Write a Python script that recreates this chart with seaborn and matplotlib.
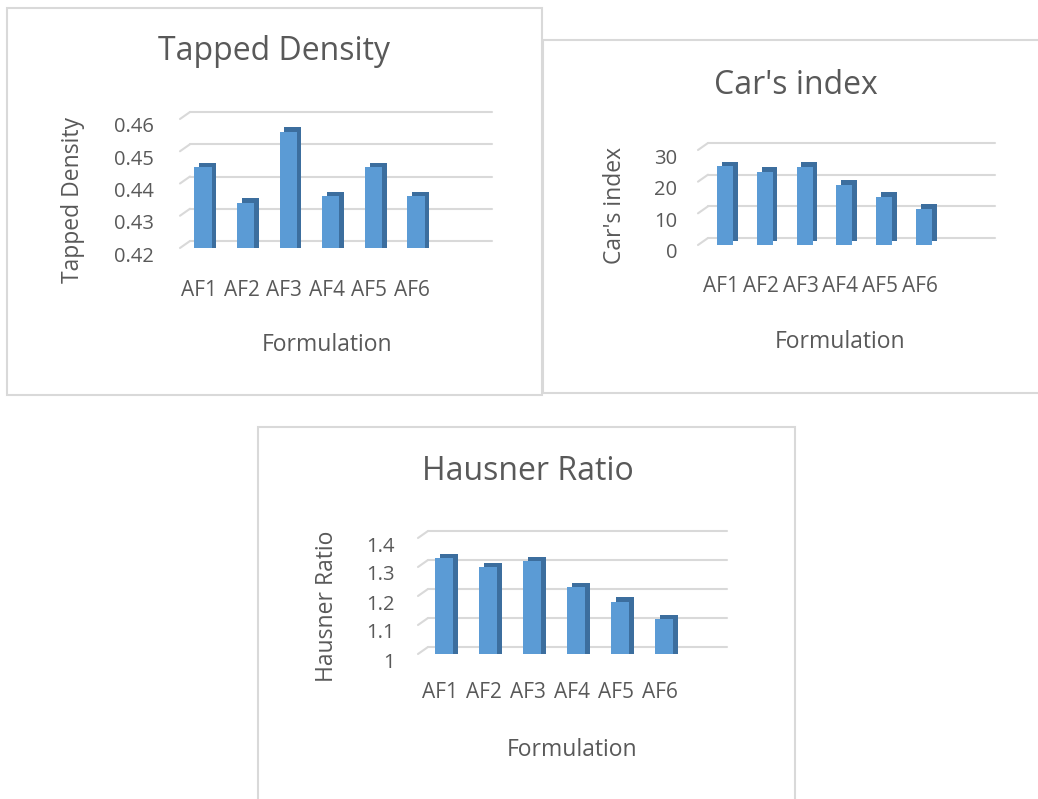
import matplotlib
matplotlib.use("Agg")
import matplotlib.pyplot as plt
import matplotlib.patheffects as pe
import seaborn as sns
from matplotlib.patches import Rectangle, ConnectionPatch
from matplotlib.transforms import ScaledTranslation

# Data
formulations = ["AF1", "AF2", "AF3", "AF4", "AF5", "AF6"]
tapped_density = [0.445, 0.434, 0.456, 0.436, 0.445, 0.436]
carrs_index = [24.8, 23.2, 24.7, 19.0, 15.3, 11.4]
hausner_ratio = [1.33, 1.30, 1.32, 1.23, 1.18, 1.12]

tapped_ticks = [0.42, 0.43, 0.44, 0.45, 0.46]
tapped_labels = ["0.42", "0.43", "0.44", "0.45", "0.46"]
carr_ticks = [0, 10, 20, 30]
carr_labels = ["0", "10", "20", "30"]
hausner_ticks = [1.0, 1.1, 1.2, 1.3, 1.4]
hausner_labels = ["1", "1.1", "1.2", "1.3", "1.4"]

W, H = 1038, 799
BAR = "#5B9BD5"
SIDE = "#3C6E9E"
TEXT = "#595959"
GRID = "#D9D9D9"

sns.set_theme(style="white")
plt.rcParams['font.family'] = ['Open Sans', 'DejaVu Sans']

fig = plt.figure(figsize=(W / 100, H / 100), dpi=100)


def fx(x):
    return x / W


def fy(y):
    return 1 - y / H


# layout in pixels: box, front plane of plot, first bar centre, bar step
panels = [
    dict(values=tapped_density, ticks=tapped_ticks, labels=tapped_labels,
         title="Tapped Density", ylabel="Tapped Density",
         box=(7, 8, 542, 395), front=(180, 119, 482, 248), first=203, step=42.6,
         title_xy=(274, 52), ylabel_xy=(73, 200), xlabel_xy=(327, 345),
         ypad=19, xpad=23),
    dict(values=carrs_index, ticks=carr_ticks, labels=carr_labels,
         title="Car's index", ylabel="Car's index",
         box=(543, 40, 1045, 393), front=(698, 150, 985, 245), first=725, step=39.8,
         title_xy=(796, 86), ylabel_xy=(615, 205), xlabel_xy=(840, 342),
         ypad=15, xpad=22),
    dict(values=hausner_ratio, ticks=hausner_ticks, labels=hausner_labels,
         title="Hausner Ratio", ylabel="Hausner Ratio",
         box=(258, 427, 795, 810), front=(418, 538, 717, 654), first=444, step=44,
         title_xy=(528, 472), ylabel_xy=(327, 606), xlabel_xy=(572, 750),
         ypad=16.5, xpad=20.5),
]

for p in panels:
    bx0, by0, bx1, by1 = p["box"]
    fig.patches.append(Rectangle((fx(bx0), fy(by1)), fx(bx1 - bx0), (by1 - by0) / H,
                                 transform=fig.transFigure, fill=False,
                                 edgecolor=GRID, linewidth=1.5))

    x0, y0, x1, y1 = p["front"]
    ax = fig.add_axes([fx(x0), fy(y1), fx(x1 - x0), (y1 - y0) / H])
    sns.barplot(x=formulations, y=p["values"], color=BAR, saturation=1,
                width=0.4, ax=ax, zorder=3, linewidth=0, edgecolor=BAR)
    for bar in ax.patches:
        bar.set_path_effects([
            pe.SimplePatchShadow(offset=(3.4, 3.2), shadow_rgbFace=SIDE, alpha=1),
            pe.Normal()])

    ax.set_xlim((x0 - p["first"]) / p["step"], (x1 - p["first"]) / p["step"])
    ax.set_ylim(p["ticks"][0], p["ticks"][-1])
    ax.set_yticks(p["ticks"])
    ax.set_yticklabels(p["labels"])
    ax.tick_params(axis="y", length=0, pad=p["ypad"], labelsize=14.5, labelcolor=TEXT)
    ax.tick_params(axis="x", length=0, pad=p["xpad"], labelsize=15, labelcolor=TEXT)
    for lab in ax.get_yticklabels():
        lab.set_transform(lab.get_transform() + ScaledTranslation(0, -0.06, fig.dpi_scale_trans))
    for lab in ax.get_xticklabels():
        lab.set_transform(lab.get_transform() + ScaledTranslation(-0.04, 0, fig.dpi_scale_trans))
    for s in ax.spines.values():
        s.set_visible(False)
    ax.set_facecolor("none")

    # back-wall gridlines with the little floor diagonals, like Excel 3-D columns
    back = ax.transData + ScaledTranslation(0.10, 0.07, fig.dpi_scale_trans)
    xl = ax.get_xlim()
    for t in p["ticks"]:
        ax.plot(xl, [t, t], color=GRID, lw=1.5, transform=back, clip_on=False, zorder=1)
        ax.add_artist(ConnectionPatch((xl[0], t), (xl[0], t), coordsA=ax.transData,
                                      coordsB=back, color=GRID, lw=1.5, zorder=1))

    fig.text(fx(p["title_xy"][0]), fy(p["title_xy"][1]), p["title"], fontsize=23,
             color=TEXT, ha="center", va="center")
    fig.text(fx(p["ylabel_xy"][0]), fy(p["ylabel_xy"][1]), p["ylabel"], fontsize=16.5,
             color=TEXT, ha="center", va="center", rotation=90)
    fig.text(fx(p["xlabel_xy"][0]), fy(p["xlabel_xy"][1]), "Formulation", fontsize=16.5,
             color=TEXT, ha="center", va="center")

fig.savefig("out.png", dpi=100, facecolor="white")
